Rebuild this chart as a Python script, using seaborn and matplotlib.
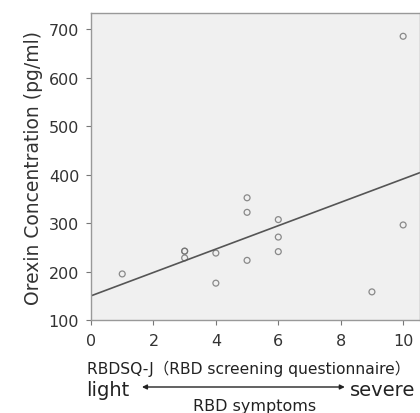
import matplotlib
matplotlib.use("Agg")
import matplotlib.pyplot as plt
import seaborn as sns
import pandas as pd

# RBDSQ-J score vs orexin concentration
rbdsq_score = [1, 3, 3, 3, 4, 4, 5, 5, 5, 6, 6, 6, 9, 10, 10]
orexin_pg_ml = [195, 242, 242, 228, 238, 176, 352, 322, 223, 307, 271, 241, 158, 685, 296]
x_ticks = [0, 2, 4, 6, 8, 10]
y_ticks = [100, 200, 300, 400, 500, 600, 700]

df = pd.DataFrame({"score": rbdsq_score, "orexin": orexin_pg_ml})

sns.set_theme(style="ticks")
plt.rcParams['font.family'] = ['DejaVu Sans', 'Noto Sans CJK JP']

fig = plt.figure(figsize=(4.2, 4.14), dpi=100)
ax = fig.add_axes([0.2167, 0.2246, 0.7833, 0.7416])
ax.set_facecolor("#f0f0f0")
ax.set_xlim(0, 10.54)
ax.set_ylim(100, 733)

sns.regplot(
    data=df, x="score", y="orexin", ax=ax, ci=None, truncate=False,
    scatter_kws=dict(facecolors="none", edgecolors="#707070", s=18, linewidths=0.9),
    line_kws=dict(color="#555555", lw=1.2),
)

ax.set_xticks(x_ticks)
ax.set_yticks(y_ticks)
ax.tick_params(axis="both", labelsize=11.5, length=3.5, width=0.8, color="#777777",
               labelcolor="#333333")
ax.tick_params(axis="x", pad=6)
ax.tick_params(axis="y", pad=5)
for s in ax.spines.values():
    s.set_color("#999999")
    s.set_linewidth(1.0)
ax.set_xlabel("")
ax.set_ylabel("Orexin Concentration (pg/ml)", fontsize=13.5, color="#333333", labelpad=4)

# x-axis description lines
fig.text(0.207, 0.0966, "RBDSQ-J（RBD screening questionnaire）", fontsize=11.2,
         color="#222222", va="baseline", ha="left")
fig.text(0.205, 0.0435, "light", fontsize=14, color="#222222", va="baseline", ha="left")
fig.text(0.99, 0.0435, "severe", fontsize=14, color="#222222", va="baseline", ha="right")
fig.text(0.607, 0.0072, "RBD symptoms", fontsize=11.5, color="#222222",
         va="baseline", ha="center")
ax.annotate("", xy=(0.821, 0.0628), xytext=(0.338, 0.0628), xycoords="figure fraction",
            arrowprops=dict(arrowstyle="<|-|>", color="#222222", lw=1.0,
                            mutation_scale=7, shrinkA=0, shrinkB=0))

fig.savefig("out.png", dpi=100)
plt.close(fig)
